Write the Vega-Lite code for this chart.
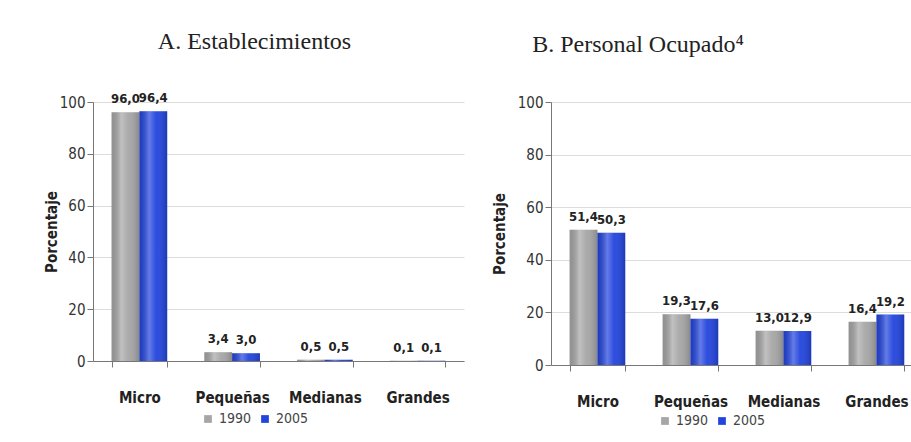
{
  "$schema": "https://vega.github.io/schema/vega-lite/v6.json",
  "background": "white",
  "padding": {"left": 44, "top": 30, "right": 0, "bottom": 0},
  "spacing": 28,
  "datasets": {
    "est": [
      {"tamano": "Micro", "anio": "1990", "pct": 96.0},
      {"tamano": "Micro", "anio": "2005", "pct": 96.4},
      {"tamano": "Pequeñas", "anio": "1990", "pct": 3.4},
      {"tamano": "Pequeñas", "anio": "2005", "pct": 3.0},
      {"tamano": "Medianas", "anio": "1990", "pct": 0.5},
      {"tamano": "Medianas", "anio": "2005", "pct": 0.5},
      {"tamano": "Grandes", "anio": "1990", "pct": 0.1},
      {"tamano": "Grandes", "anio": "2005", "pct": 0.1}
    ],
    "per": [
      {"tamano": "Micro", "anio": "1990", "pct": 51.4},
      {"tamano": "Micro", "anio": "2005", "pct": 50.3},
      {"tamano": "Pequeñas", "anio": "1990", "pct": 19.3},
      {"tamano": "Pequeñas", "anio": "2005", "pct": 17.6},
      {"tamano": "Medianas", "anio": "1990", "pct": 13.0},
      {"tamano": "Medianas", "anio": "2005", "pct": 12.9},
      {"tamano": "Grandes", "anio": "1990", "pct": 16.4},
      {"tamano": "Grandes", "anio": "2005", "pct": 19.2}
    ]
  },
  "hconcat": [
    {
      "data": {"name": "est"},
      "width": 371,
      "height": 259,
      "title": {"text": "A. Establecimientos", "frame": "group", "dx": -24},
      "encoding": {
        "x": {"field": "tamano", "type": "nominal", "sort": ["Micro", "Pequeñas", "Medianas", "Grandes"],
              "scale": {"paddingInner": 0.4, "paddingOuter": 0.2}, "axis": {"title": null}},
        "xOffset": {"field": "anio", "type": "nominal", "sort": ["1990", "2005"]},
        "y": {"field": "pct", "type": "quantitative", "scale": {"domain": [0, 100]},
              "axis": {"title": "Porcentaje", "values": [0, 20, 40, 60, 80, 100], "titlePadding": 0}}
      },
      "layer": [
        {
          "mark": {"type": "bar"},
          "encoding": {
            "color": {"field": "anio", "type": "nominal", "sort": ["1990", "2005"],
                      "scale": {"range": ["#a6a6a6", "#2244dd"]},
                      "legend": {"title": null, "orient": "none", "direction": "horizontal", "legendX": 108, "legendY": 310}}
          }
        },
        {
          "mark": {"type": "bar", "color": {"gradient": "linear", "x1": 0, "x2": 1, "y1": 0, "y2": 0,
            "stops": [{"offset": 0, "color": "rgba(0,0,0,0.12)"}, {"offset": 0.35, "color": "rgba(255,255,255,0.3)"}, {"offset": 0.6, "color": "rgba(255,255,255,0.05)"}, {"offset": 1, "color": "rgba(0,0,0,0.18)"}]}}
        },
        {
          "mark": {"type": "text", "baseline": "bottom", "dy": -6, "fontWeight": "bold", "fontSize": 13},
          "encoding": {"text": {"field": "pct", "type": "quantitative", "format": ".1f"}}
        }
      ]
    },
    {
      "data": {"name": "per"},
      "width": 372,
      "height": 263,
      "title": {"text": "B. Personal Ocupado⁴", "frame": "group", "dx": -99},
      "encoding": {
        "x": {"field": "tamano", "type": "nominal", "sort": ["Micro", "Pequeñas", "Medianas", "Grandes"],
              "scale": {"paddingInner": 0.4, "paddingOuter": 0.2}, "axis": {"title": null}},
        "xOffset": {"field": "anio", "type": "nominal", "sort": ["1990", "2005"]},
        "y": {"field": "pct", "type": "quantitative", "scale": {"domain": [0, 100]},
              "axis": {"title": "Porcentaje", "values": [0, 20, 40, 60, 80, 100], "titlePadding": 10}}
      },
      "layer": [
        {
          "mark": {"type": "bar"},
          "encoding": {
            "color": {"field": "anio", "type": "nominal", "sort": ["1990", "2005"],
                      "scale": {"range": ["#a6a6a6", "#2244dd"]},
                      "legend": {"title": null, "orient": "none", "direction": "horizontal", "legendX": 107, "legendY": 312}}
          }
        },
        {
          "mark": {"type": "bar", "color": {"gradient": "linear", "x1": 0, "x2": 1, "y1": 0, "y2": 0,
            "stops": [{"offset": 0, "color": "rgba(0,0,0,0.12)"}, {"offset": 0.35, "color": "rgba(255,255,255,0.3)"}, {"offset": 0.6, "color": "rgba(255,255,255,0.05)"}, {"offset": 1, "color": "rgba(0,0,0,0.18)"}]}}
        },
        {
          "mark": {"type": "text", "baseline": "bottom", "dy": -6, "fontWeight": "bold", "fontSize": 13},
          "encoding": {"text": {"field": "pct", "type": "quantitative", "format": ".1f"}}
        }
      ]
    }
  ],
  "resolve": {"scale": {"color": "independent", "y": "independent", "x": "independent"}, "legend": {"color": "independent"}},
  "config": {
    "locale": {"number": {"decimal": ",", "thousands": ".", "grouping": [3], "currency": ["", " €"]}},
    "font": "DejaVu Sans Condensed, Liberation Sans, sans-serif",
    "view": {"stroke": null},
    "title": {"font": "Liberation Serif", "fontSize": 24, "fontWeight": "normal", "color": "#222", "anchor": "middle", "offset": 38},
    "text": {"font": "DejaVu Sans Condensed, Liberation Sans, sans-serif", "color": "#222"},
    "axisY": {"grid": true, "gridColor": "#dcdcdc", "domainColor": "#777", "tickColor": "#777", "tickSize": 6,
              "labelFontSize": 15, "labelColor": "#333", "labelPadding": 2,
              "titleFontSize": 15, "titleFontWeight": "bold", "titleColor": "#222"},
    "axisX": {"domainColor": "#777", "tickColor": "#777", "tickSize": 6, "tickBand": "extent",
              "labelAngle": 0, "labelFontSize": 15, "labelFontWeight": "bold", "labelColor": "#222", "labelPadding": 23},
    "legend": {"symbolType": "square", "symbolSize": 60, "labelFontSize": 14, "labelColor": "#444",
               "columnPadding": 6, "symbolStrokeWidth": 0, "padding": 0}
  }
}
